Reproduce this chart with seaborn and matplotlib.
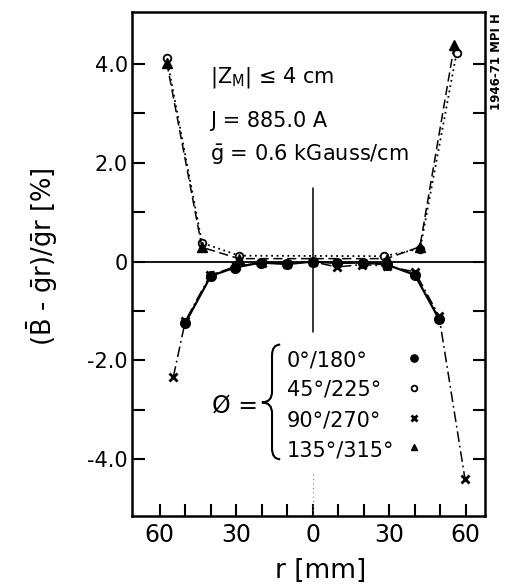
import matplotlib
matplotlib.use("Agg")
import matplotlib.pyplot as plt
import seaborn as sns
from matplotlib.path import Path
from matplotlib.patches import PathPatch

# radial position r [mm] (negative = left half) and deviation (B - gr)/gr [%]
r_0 = [-50, -40, -30.5, -20.5, -10, 0, 9.5, 19.5, 29, 40, 49.5]
dev_0 = [-1.24, -0.29, -0.12, -0.02, -0.05, 0.0, -0.03, -0.02, -0.06, -0.27, -1.16]

r_45 = [-57.3, -43.5, -28.8, 28, 42.1, 56.4]
dev_45 = [4.13, 0.38, 0.12, 0.11, 0.26, 4.23]

r_90 = [-54.7, -50, -40.3, -30, -20, -10, 0, 9.4, 19.2, 29, 40.1, 49.5, 59.7]
dev_90 = [-2.33, -1.2, -0.28, -0.09, -0.03, -0.04, 0.0, -0.11, -0.06, -0.09, -0.21, -1.1, -4.4]

r_135 = [-57.3, -43.5, -29, 29, 42, 55.5]
dev_135 = [4.03, 0.29, 0.06, 0.06, 0.30, 4.38]

angle_labels = ["0°/180°", "45°/225°", "90°/270°", "135°/315°"]

xtick_pos = [-60, -50, -40, -30, -20, -10, 0, 10, 20, 30, 40, 50, 60]
xtick_labels = ["60", "", "", "30", "", "", "0", "", "", "30", "", "", "60"]
ytick_pos = [-4, -3, -2, -1, 0, 1, 2, 3, 4]
ytick_labels = ["-4.0", "", "-2.0", "", "0", "", "2.0", "", "4.0"]

sns.set_style("ticks")
plt.rcParams["font.family"] = ["DejaVu Sans"]
plt.rcParams["mathtext.fontset"] = "dejavusans"
plt.rcParams.update({"text.color": "black", "axes.labelcolor": "black",
                     "xtick.color": "black", "ytick.color": "black",
                     "axes.edgecolor": "black"})

fig = plt.figure(figsize=(5.08, 5.88), dpi=100)
ax = fig.add_axes([0.26, 0.1224, 0.695, 0.857])

styles = [
    dict(marker="o", linestyle="-", markersize=7, markerfacecolor="black", markeredgewidth=1, linewidth=1.6),
    dict(marker="o", linestyle=(0, (1, 2)), markersize=5.5, markerfacecolor="white", markeredgewidth=1.3, linewidth=1.3),
    dict(marker="x", linestyle=(0, (7, 2.5, 1.2, 2.5)), markersize=6, markeredgewidth=2, linewidth=1.1),
    dict(marker="^", linestyle=(0, (6, 3)), markersize=6.5, markerfacecolor="black", markeredgewidth=1, linewidth=1.1),
]
series = [(r_0, dev_0), (r_45, dev_45), (r_90, dev_90), (r_135, dev_135)]

# reference lines
ax.axhline(0, color="black", lw=1.3, zorder=1)
ax.plot([0, 0], [1.49, -1.43], color="black", lw=1.1, zorder=1)
ax.plot([0, 0], [-4.3, -5.15], color="0.5", lw=0.8, ls=(0, (1, 3)), zorder=1)

for (r, d), st in zip(series, styles):
    sns.lineplot(x=r, y=d, ax=ax, sort=False, color="black",
                 markeredgecolor="black", zorder=3, **st)

ax.set_xlim(-70.9, 67.6)
ax.set_ylim(-5.15, 5.05)
ax.set_xticks(xtick_pos)
ax.set_xticklabels(xtick_labels, fontsize=17)
ax.set_yticks(ytick_pos)
ax.set_yticklabels(ytick_labels, fontsize=15)
ax.tick_params(axis="x", direction="in", length=9, width=1.5, pad=5)
ax.tick_params(axis="y", direction="in", length=9, width=1.5, pad=3, right=True)
for s in ax.spines.values():
    s.set_linewidth(1.8)
    s.set_color("black")

ax.set_xlabel("r [mm]", fontsize=19)
ax.xaxis.label.set_va("center")
ax.xaxis.set_label_coords(0.533, -0.109)
ax.set_ylabel(r"($\bar{\mathrm{B}}$ - $\bar{\mathrm{g}}$r)/$\bar{\mathrm{g}}$r [%]", fontsize=18.5)
ax.yaxis.label.set_va("center")
ax.yaxis.set_label_coords(-0.255, 0.514)

# parameter annotations
ax.text(-40.3, 3.62, r"|Z$_\mathrm{M}$| ≤ 4 cm", fontsize=15, va="baseline")
ax.text(-40.3, 2.73, "J = 885.0 A", fontsize=15, va="baseline")
ax.text(-40.3, 2.03, r"$\bar{\mathrm{g}}$ = 0.6 kGauss/cm", fontsize=15, va="baseline")

# angle key with brace
key_y = [-2.12, -2.72, -3.33, -3.95]
mark_y = [-1.95, -2.55, -3.16, -3.76]
for lab, ty, my, st in zip(angle_labels, key_y, mark_y, styles):
    ax.text(-10.2, ty, lab, fontsize=15, va="baseline")
    ms = {k: v for k, v in st.items() if k in ("marker", "markerfacecolor", "markeredgewidth")}
    ax.plot([39.5], [my], color="black", markeredgecolor="black",
            markersize=st["markersize"] * 0.75, linestyle="none", **ms)
ax.text(-39.5, -3.05, "Ø =", fontsize=17, va="baseline")

xr, xs, xt = -12.8, -16.0, -20.0
yt, yb, ym = -1.68, -4.0, -2.85
verts = [(xr, yt), (xs, yt), (xs, yt - 0.22),
         (xs, ym + 0.22), (xs, ym), (xt, ym),
         (xs, ym), (xs, ym - 0.22),
         (xs, yb + 0.22), (xs, yb), (xr, yb)]
codes = [Path.MOVETO, Path.CURVE3, Path.CURVE3,
         Path.LINETO, Path.CURVE3, Path.CURVE3,
         Path.CURVE3, Path.CURVE3,
         Path.LINETO, Path.CURVE3, Path.CURVE3]
ax.add_patch(PathPatch(Path(verts, codes), fill=False, lw=1.5, color="black"))

fig.text(0.978, 0.895, "1946-71 MPI H", rotation=90, fontsize=8.5,
         fontweight="bold", ha="center", va="center")

fig.savefig("out.png", dpi=100)
